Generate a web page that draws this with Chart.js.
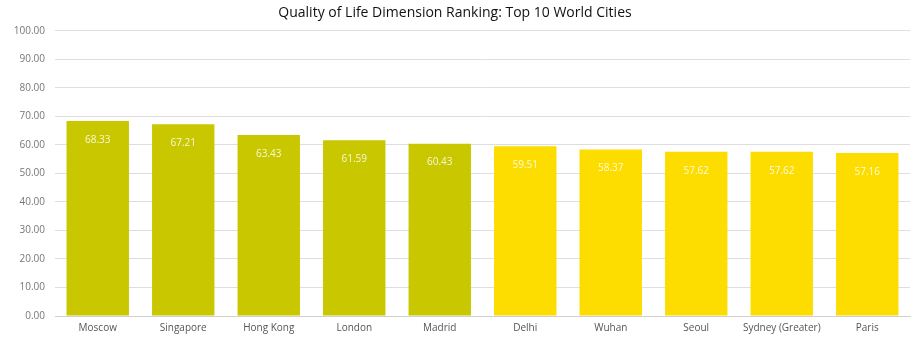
<!DOCTYPE html>
<html>
<head>
<meta charset="utf-8">
<script src="https://cdn.jsdelivr.net/npm/chart.js@4/dist/chart.umd.min.js"></script>
<style>
  html, body { margin: 0; padding: 0; background: #fff; overflow: hidden; }
  canvas { display: block; }
</style>
</head>
<body>
<canvas id="myChart" width="922" height="348"></canvas>
<script>
'use strict';

// data
let cities = ['Moscow', 'Singapore', 'Hong Kong', 'London', 'Madrid',
  'Delhi', 'Wuhan', 'Seoul', 'Sydney (Greater)', 'Paris'];
let scores = [68.33, 67.21, 63.43, 61.59, 60.43, 59.51, 58.37, 57.62, 57.62, 57.16];
let topFive = [true, true, true, true, true, false, false, false, false, false];
let yTicks = [0, 10, 20, 30, 40, 50, 60, 70, 80, 90, 100];

const olive = '#c9c800';
const yellow = '#fddc00';

// white value labels inside the top of each bar
const barLabels = {
  id: 'barLabels',
  afterDatasetsDraw(chart) {
    let ctx = chart.ctx;
    let meta = chart.getDatasetMeta(0);
    ctx.save();
    ctx.fillStyle = 'rgba(255,255,255,0.85)';
    ctx.font = '10px "Open Sans", sans-serif';
    ctx.textAlign = 'center';
    ctx.textBaseline = 'middle';
    for (let i = 0; i < meta.data.length; i++) {
      let bar = meta.data[i];
      ctx.fillText(scores[i].toFixed(2), bar.x, bar.y + 19);
    }
    ctx.restore();
  }
};

let ctx = document.getElementById('myChart').getContext('2d');
let myChart = new Chart(ctx, {
  type: 'bar',
  data: {
    labels: cities,
    datasets: [{
      label: 'Score',
      data: scores,
      backgroundColor: topFive.map(t => t ? olive : yellow),
      borderWidth: 0,
      categoryPercentage: 1,
      barPercentage: 0.73
    }]
  },
  options: {
    responsive: false,
    animation: false,
    layout: { padding: { left: 0, right: 12, top: 0, bottom: 8 } },
    plugins: {
      legend: { display: false },
      tooltip: { enabled: false },
      title: {
        display: true,
        text: 'Quality of Life Dimension Ranking: Top 10 World Cities',
        color: '#111',
        font: { family: 'Open Sans', size: 14, weight: 'normal' },
        padding: { top: 5, bottom: 9 }
      }
    },
    scales: {
      x: {
        grid: { display: false, drawTicks: false },
        border: { color: '#d0d0d0' },
        ticks: {
          color: '#555',
          font: { family: 'Open Sans', size: 10 },
          maxRotation: 0,
          autoSkip: false,
          padding: 6
        }
      },
      y: {
        min: 0,
        max: 100,
        afterBuildTicks(axis) {
          axis.ticks = yTicks.map(v => ({ value: v }));
        },
        afterFit(axis) {
          axis.width = 55;
        },
        grid: { color: '#dedede', drawTicks: false },
        border: { display: false },
        ticks: {
          color: '#777',
          font: { family: 'Open Sans', size: 10 },
          padding: 10,
          callback: v => v.toFixed(2)
        }
      }
    }
  },
  plugins: [barLabels]
});
</script>
</body>
</html>
